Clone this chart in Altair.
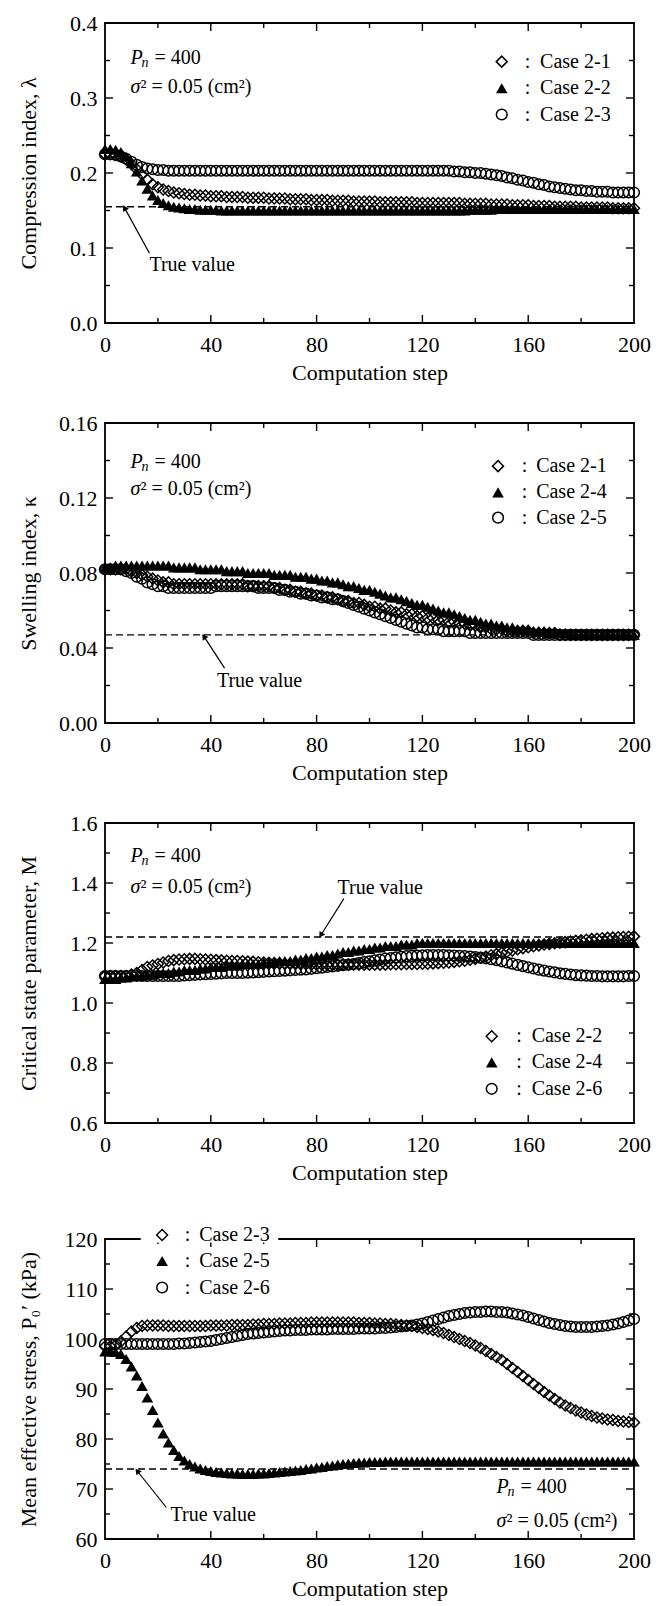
import math
import altair as alt
import pandas as pd

# ---------------- data ----------------
STEPS = list(range(0, 201, 2))

# Panel 1 : compression index
LAMBDA_21 = [0.225,0.225,0.224,0.222,0.218,0.212,0.205,0.198,0.191,0.185,
             0.181,0.178,0.176,0.174,0.173,0.172,0.171,0.171,0.170,0.170,
             0.169,0.169,0.169,0.168,0.168,0.168,0.168,0.167,0.167,0.167,
             0.167,0.166,0.166,0.166,0.166,0.165,0.165,0.165,0.165,0.164,
             0.164,0.164,0.164,0.163,0.163,0.163,0.163,0.162,0.162,0.162,
             0.162,0.162,0.161,0.161,0.161,0.161,0.161,0.161,0.161,0.160,
             0.160,0.160,0.160,0.160,0.160,0.160,0.160,0.160,0.159,0.159,
             0.159,0.159,0.159,0.158,0.158,0.158,0.158,0.157,0.157,0.157,
             0.157,0.156,0.156,0.156,0.156,0.155,0.155,0.155,0.155,0.155,
             0.154,0.154,0.154,0.154,0.154,0.154,0.153,0.153,0.153,0.153,
             0.153]
LAMBDA_22 = [0.232,0.232,0.231,0.228,0.222,0.213,0.202,0.190,0.179,0.170,
             0.164,0.160,0.157,0.155,0.154,0.153,0.152,0.152,0.151,0.151,
             0.151,0.151,0.150,0.150,0.150,0.150,0.150,0.150,0.150,0.150,
             0.150,0.150,0.150,0.150,0.150,0.150,0.150,0.150,0.150,0.150,
             0.150,0.150,0.150,0.150,0.150,0.150,0.150,0.150,0.150,0.150,
             0.150,0.150,0.150,0.150,0.150,0.150,0.150,0.150,0.150,0.150,
             0.150,0.150,0.150,0.150,0.150,0.150,0.150,0.150,0.150,0.151,
             0.151,0.151,0.151,0.151,0.152,0.152,0.152,0.152,0.152,0.152,
             0.152,0.152,0.152,0.152,0.152,0.152,0.152,0.152,0.152,0.152,
             0.152,0.152,0.152,0.152,0.152,0.152,0.152,0.152,0.152,0.152,
             0.152]
LAMBDA_23 = [0.225,0.225,0.224,0.222,0.219,0.215,0.211,0.208,0.206,0.205,
             0.204,0.204,0.203,0.203,0.203,0.203,0.203,0.203,0.203,0.203,
             0.203,0.203,0.203,0.203,0.203,0.203,0.203,0.203,0.203,0.203,
             0.203,0.203,0.203,0.203,0.203,0.203,0.203,0.203,0.203,0.203,
             0.203,0.203,0.203,0.203,0.203,0.203,0.203,0.203,0.203,0.203,
             0.203,0.203,0.203,0.203,0.203,0.203,0.203,0.203,0.203,0.203,
             0.203,0.203,0.203,0.203,0.203,0.203,0.202,0.202,0.201,0.201,
             0.200,0.200,0.199,0.198,0.197,0.196,0.194,0.193,0.191,0.190,
             0.188,0.187,0.185,0.184,0.182,0.181,0.180,0.179,0.178,0.177,
             0.177,0.176,0.176,0.175,0.175,0.175,0.174,0.174,0.174,0.174,
             0.174]

# Panel 2 : swelling index
KAPPA_21 = [0.082,0.082,0.082,0.082,0.082,0.081,0.080,0.079,0.078,0.077,
            0.076,0.075,0.075,0.074,0.074,0.074,0.074,0.074,0.074,0.074,
            0.074,0.074,0.074,0.074,0.074,0.074,0.074,0.073,0.073,0.073,
            0.073,0.073,0.072,0.072,0.071,0.071,0.070,0.070,0.069,0.069,
            0.068,0.068,0.067,0.067,0.066,0.065,0.065,0.064,0.064,0.063,
            0.062,0.062,0.061,0.061,0.060,0.059,0.059,0.058,0.058,0.057,
            0.057,0.056,0.056,0.055,0.055,0.054,0.054,0.053,0.053,0.052,
            0.052,0.051,0.051,0.050,0.050,0.050,0.049,0.049,0.049,0.049,
            0.049,0.048,0.048,0.048,0.048,0.048,0.047,0.047,0.047,0.047,
            0.047,0.047,0.047,0.047,0.047,0.047,0.047,0.047,0.047,0.047,
            0.047]
KAPPA_24 = [0.083,0.083,0.084,0.084,0.084,0.084,0.084,0.084,0.084,0.084,
            0.084,0.084,0.084,0.083,0.083,0.083,0.083,0.083,0.082,0.082,
            0.082,0.082,0.082,0.081,0.081,0.081,0.081,0.080,0.080,0.080,
            0.080,0.080,0.079,0.079,0.079,0.079,0.078,0.078,0.078,0.077,
            0.077,0.076,0.076,0.075,0.075,0.074,0.073,0.073,0.072,0.071,
            0.071,0.070,0.069,0.068,0.067,0.067,0.066,0.065,0.064,0.063,
            0.063,0.062,0.061,0.060,0.059,0.059,0.058,0.057,0.056,0.055,
            0.055,0.054,0.053,0.053,0.052,0.052,0.051,0.051,0.050,0.050,
            0.050,0.049,0.049,0.049,0.048,0.048,0.048,0.048,0.047,0.047,
            0.047,0.047,0.047,0.047,0.047,0.047,0.047,0.047,0.047,0.047,
            0.047]
KAPPA_25 = [0.082,0.082,0.082,0.082,0.081,0.080,0.078,0.077,0.075,0.074,
            0.073,0.073,0.072,0.072,0.072,0.072,0.072,0.072,0.072,0.072,
            0.072,0.073,0.073,0.073,0.073,0.073,0.073,0.073,0.073,0.072,
            0.072,0.072,0.072,0.071,0.071,0.070,0.070,0.069,0.069,0.068,
            0.068,0.067,0.067,0.066,0.066,0.065,0.064,0.063,0.062,0.061,
            0.060,0.059,0.058,0.057,0.056,0.055,0.054,0.053,0.052,0.051,
            0.051,0.050,0.050,0.050,0.049,0.049,0.049,0.049,0.049,0.048,
            0.048,0.048,0.048,0.048,0.048,0.048,0.048,0.048,0.048,0.048,
            0.048,0.047,0.047,0.047,0.047,0.047,0.047,0.047,0.047,0.047,
            0.047,0.047,0.047,0.047,0.047,0.047,0.047,0.047,0.047,0.047,
            0.047]

# Panel 3 : critical state parameter
M_22 = [1.090,1.090,1.090,1.090,1.090,1.095,1.100,1.110,1.120,1.125,
        1.130,1.135,1.140,1.143,1.145,1.146,1.147,1.147,1.146,1.145,
        1.144,1.143,1.142,1.141,1.140,1.140,1.139,1.138,1.137,1.136,
        1.135,1.134,1.133,1.132,1.131,1.130,1.130,1.129,1.129,1.128,
        1.128,1.128,1.128,1.128,1.128,1.128,1.128,1.128,1.128,1.128,
        1.128,1.128,1.128,1.128,1.129,1.129,1.129,1.130,1.130,1.130,
        1.131,1.131,1.132,1.133,1.134,1.135,1.137,1.139,1.141,1.144,
        1.147,1.151,1.155,1.159,1.163,1.167,1.171,1.175,1.179,1.183,
        1.186,1.189,1.192,1.195,1.197,1.199,1.201,1.203,1.205,1.207,
        1.209,1.211,1.213,1.214,1.216,1.217,1.218,1.219,1.220,1.221,
        1.222]
M_24 = [1.080,1.080,1.080,1.085,1.085,1.090,1.090,1.090,1.095,1.095,
        1.100,1.100,1.100,1.105,1.105,1.110,1.110,1.110,1.115,1.115,
        1.120,1.120,1.120,1.125,1.125,1.125,1.130,1.130,1.130,1.130,
        1.135,1.135,1.135,1.140,1.140,1.140,1.145,1.145,1.150,1.150,
        1.155,1.155,1.160,1.160,1.165,1.170,1.170,1.175,1.175,1.180,
        1.180,1.185,1.185,1.190,1.190,1.190,1.195,1.195,1.195,1.200,
        1.200,1.200,1.200,1.200,1.200,1.200,1.200,1.200,1.200,1.200,
        1.200,1.200,1.200,1.200,1.200,1.200,1.200,1.200,1.200,1.200,
        1.200,1.200,1.200,1.200,1.200,1.200,1.200,1.200,1.200,1.200,
        1.200,1.200,1.200,1.200,1.200,1.200,1.200,1.200,1.200,1.200,
        1.200]
M_26 = [1.090,1.090,1.090,1.090,1.090,1.090,1.090,1.090,1.090,1.090,
        1.090,1.090,1.090,1.090,1.090,1.092,1.093,1.094,1.095,1.096,
        1.097,1.098,1.099,1.100,1.100,1.100,1.100,1.101,1.102,1.103,
        1.104,1.105,1.106,1.107,1.108,1.109,1.110,1.111,1.112,1.114,
        1.116,1.118,1.120,1.122,1.124,1.126,1.128,1.130,1.133,1.136,
        1.139,1.142,1.145,1.148,1.150,1.152,1.154,1.156,1.157,1.158,
        1.159,1.160,1.160,1.160,1.160,1.159,1.158,1.157,1.156,1.155,
        1.153,1.151,1.149,1.146,1.143,1.139,1.135,1.131,1.127,1.123,
        1.119,1.115,1.111,1.108,1.105,1.102,1.099,1.097,1.095,1.093,
        1.092,1.091,1.090,1.090,1.089,1.089,1.089,1.089,1.089,1.090,
        1.090]

# Panel 4 : mean effective stress
P0_23 = [98.5,98.5,98.8,99.5,100.5,101.5,102.2,102.6,102.7,102.7,
         102.7,102.7,102.6,102.6,102.6,102.6,102.6,102.6,102.6,102.6,
         102.7,102.7,102.7,102.7,102.8,102.8,102.8,102.8,102.9,102.9,
         103.0,103.0,103.0,103.1,103.1,103.1,103.2,103.2,103.2,103.3,
         103.3,103.3,103.3,103.3,103.3,103.3,103.3,103.3,103.2,103.2,
         103.2,103.1,103.1,103.0,103.0,102.9,102.8,102.7,102.6,102.4,
         102.2,102.0,101.8,101.5,101.2,100.8,100.4,100.0,99.6,99.2,
         98.7,98.2,97.6,97.0,96.4,95.8,95.0,94.2,93.4,92.6,
         91.8,91.0,90.2,89.4,88.7,88.0,87.3,86.7,86.2,85.7,
         85.3,84.9,84.6,84.3,84.1,83.9,83.8,83.6,83.5,83.4,
         83.3]
P0_25 = [97.5,97.5,97.4,97.0,96.0,94.5,92.7,90.6,88.3,85.8,
         83.3,81.1,79.3,77.8,76.6,75.7,75.0,74.5,74.1,73.8,
         73.6,73.4,73.3,73.2,73.1,73.1,73.0,73.0,73.0,73.1,
         73.1,73.2,73.3,73.4,73.5,73.6,73.7,73.8,74.0,74.1,
         74.3,74.4,74.6,74.7,74.9,75.0,75.1,75.2,75.3,75.3,
         75.4,75.4,75.4,75.5,75.5,75.5,75.5,75.5,75.5,75.5,
         75.5,75.5,75.5,75.5,75.5,75.5,75.5,75.5,75.5,75.5,
         75.5,75.5,75.5,75.5,75.5,75.5,75.5,75.5,75.5,75.5,
         75.5,75.5,75.5,75.5,75.5,75.5,75.5,75.5,75.5,75.5,
         75.5,75.5,75.5,75.5,75.5,75.5,75.5,75.5,75.5,75.5,
         75.5]
P0_26 = [99.0,99.0,99.0,99.0,99.0,99.0,99.0,99.0,99.0,99.0,
         99.0,99.0,99.0,99.0,99.1,99.1,99.2,99.3,99.4,99.5,
         99.6,99.8,100.0,100.2,100.4,100.6,100.8,101.0,101.1,101.2,
         101.3,101.4,101.5,101.6,101.7,101.7,101.8,101.8,101.8,101.9,
         101.9,101.9,101.9,102.0,102.0,102.0,102.0,102.0,102.1,102.1,
         102.1,102.1,102.2,102.2,102.3,102.4,102.5,102.6,102.7,102.9,
         103.1,103.4,103.7,104.0,104.3,104.6,104.8,105.0,105.2,105.3,
         105.4,105.4,105.5,105.5,105.4,105.4,105.3,105.1,104.9,104.7,
         104.4,104.1,103.8,103.5,103.2,103.0,102.8,102.6,102.5,102.4,
         102.4,102.4,102.4,102.5,102.6,102.7,102.9,103.1,103.4,103.7,
         104.0]

TRUE_VALUES = [0.155, 0.047, 1.22, 74.0]
X_LABELS = [0, 40, 80, 120, 160, 200]
X_MINOR = [20, 60, 100, 140, 180]

# ---------------- layout / style constants ----------------
W, H = 529, 300
FONT = "Liberation Serif"
FS_LAB = 22
FS_TITLE = 22
FS_TXT = 20
MAJ_LEN, MIN_LEN = 8, 5
SIZE = {"diamond": 120, "triangle-up": 135, "circle": 115}

XS = alt.Scale(domain=[0, 200], nice=False, zero=False)
XAXIS = alt.Axis(title="Computation step", values=X_LABELS, ticks=False, domain=False,
                 grid=False, labelFont=FONT, labelFontSize=FS_LAB, labelPadding=11,
                 labelColor="black", titleColor="black", labelOverlap=False,
                 labelFlush=False,
                 titleFont=FONT, titleFontSize=FS_TITLE, titleFontWeight="normal",
                 titlePadding=7)


def point_layer(xs, ys, shape, X, Y):
    df = pd.DataFrame({"x": xs, "y": ys})
    kw = dict(shape=shape, size=SIZE[shape], color="black", opacity=1)
    if shape == "triangle-up":
        m = alt.Chart(df).mark_point(filled=True, **kw)
    else:
        m = alt.Chart(df).mark_point(filled=False, strokeWidth=1.5, **kw)
    return m.encode(x=X(), y=Y())


def text_layer(x, y, text, X, Y, **kw):
    df = pd.DataFrame({"x": [x], "y": [y]})
    base = dict(font=FONT, fontSize=FS_TXT, align="left", baseline="middle", color="black")
    base.update(kw)
    return alt.Chart(df).mark_text(text=text, **base).encode(x=X(), y=Y())


def panel(spec):
    ymin, ymax = spec["ydom"]
    ys = alt.Scale(domain=[ymin, ymax], nice=False, zero=False)
    yaxis = alt.Axis(title=spec["ytitle"], values=spec["ymajor"], format=spec["fmt"],
                     ticks=False, domain=False, grid=False, labelFont=FONT,
                     labelFontSize=FS_LAB, labelPadding=8, labelColor="black",
                     titleColor="black", labelOverlap=False, labelFlush=False,
                     titleFont=FONT, titleFontSize=FS_TITLE, titleFontWeight="normal",
                     titleX=-77, titleBaseline="middle")

    def X(f="x"):
        return alt.X(f + ":Q", scale=XS, axis=XAXIS)

    def Y(f="y"):
        return alt.Y(f + ":Q", scale=ys, axis=yaxis)

    layers = []
    tv = spec["true"]
    layers.append(alt.Chart(pd.DataFrame({"x": [0], "x2": [200], "y": [tv]}))
                  .mark_rule(color="black", strokeWidth=1.3, strokeDash=[7, 4])
                  .encode(x=X(), x2="x2:Q", y=Y()))
    for vals, shape in spec["series"]:
        layers.append(point_layer(STEPS, vals, shape, X, Y))
    layers.append(alt.Chart(pd.DataFrame({"x": [0], "x2": [200], "y": [ymin], "y2": [ymax]}))
                  .mark_rect(fillOpacity=0, stroke="black", strokeWidth=1.8)
                  .encode(x=X(), x2="x2:Q", y=Y(), y2="y2:Q"))
    xmaj = pd.DataFrame({"x": X_LABELS[1:-1]})
    xmin_ = pd.DataFrame({"x": X_MINOR})
    for df, ln in ((xmaj, MAJ_LEN), (xmin_, MIN_LEN)):
        layers.append(alt.Chart(df).mark_rule(color="black", strokeWidth=1.4)
                      .encode(x=X(), y=alt.value(H), y2=alt.value(H - ln)))
        layers.append(alt.Chart(df).mark_rule(color="black", strokeWidth=1.4)
                      .encode(x=X(), y=alt.value(0), y2=alt.value(ln)))
    ymaj = pd.DataFrame({"y": spec["ymajor"][1:-1]})
    ymin_df = pd.DataFrame({"y": spec["yminor"]})
    for df, ln in ((ymaj, MAJ_LEN), (ymin_df, MIN_LEN)):
        layers.append(alt.Chart(df).mark_rule(color="black", strokeWidth=1.4)
                      .encode(y=Y(), x=alt.value(0), x2=alt.value(ln)))
        layers.append(alt.Chart(df).mark_rule(color="black", strokeWidth=1.4)
                      .encode(y=Y(), x=alt.value(W - ln), x2=alt.value(W)))
    if spec.get("gap"):
        g0, g1, gy0, gy1 = spec["gap"]
        layers.append(alt.Chart(pd.DataFrame({"x": [g0], "x2": [g1], "y": [gy0], "y2": [gy1]}))
                      .mark_rect(color="white")
                      .encode(x=X(), x2="x2:Q", y=Y(), y2="y2:Q"))
    lg = spec["legend"]
    for (name, shape), ry in zip(spec["names"], lg["rows"]):
        layers.append(point_layer([lg["sx"]], [ry], shape, X, Y))
        layers.append(text_layer(lg["cx"], ry, ":", X, Y, align="center"))
        layers.append(text_layer(lg["tx"], ry, name, X, Y))
    px, pyp, pys = spec["params"]
    layers.append(text_layer(px, pyp, "P", X, Y, fontStyle="italic"))
    layers.append(text_layer(px, pyp, "n", X, Y, fontStyle="italic", fontSize=14, dx=11, dy=5))
    layers.append(text_layer(px, pyp, "= 400", X, Y, dx=24))
    layers.append(text_layer(px, pys, "σ", X, Y, fontStyle="italic"))
    layers.append(text_layer(px, pys, "² = 0.05 (cm²)", X, Y, dx=10))
    tx, ty = spec["ttext"]
    layers.append(text_layer(tx, ty, "True value", X, Y))
    (ax1, ay1), (ax2, ay2) = spec["arrow"]
    layers.append(alt.Chart(pd.DataFrame({"x": [ax1, ax2], "y": [ay1, ay2]}))
                  .mark_line(color="black", strokeWidth=1.2)
                  .encode(x=X(), y=Y()))
    dxp = (ax2 - ax1) * W / 200.0
    dyp = -(ay2 - ay1) * H / (ymax - ymin)
    ang = math.degrees(math.atan2(dxp, -dyp)) % 360
    layers.append(alt.Chart(pd.DataFrame({"x": [ax2], "y": [ay2]}))
                  .mark_point(shape="triangle-up", filled=True, size=45, color="black",
                              opacity=1, angle=ang)
                  .encode(x=X(), y=Y()))
    return alt.layer(*layers).properties(width=W, height=H)


p1 = panel(dict(ydom=(0.0, 0.4), ymajor=[0.0, 0.1, 0.2, 0.3, 0.4], yminor=[0.05, 0.15, 0.25, 0.35],
                fmt=".1f", ytitle="Compression index, λ", true=TRUE_VALUES[0],
                series=[(LAMBDA_21, "diamond"), (LAMBDA_22, "triangle-up"), (LAMBDA_23, "circle")],
                names=[("Case 2-1", "diamond"), ("Case 2-2", "triangle-up"), ("Case 2-3", "circle")],
                legend=dict(sx=150, cx=159.7, tx=164.5, rows=[0.3485, 0.313, 0.278]),
                params=(9.6, 0.353, 0.315), ttext=(16.8, 0.0775),
                arrow=((16.8, 0.093), (7.4, 0.1535))))

p2 = panel(dict(ydom=(0.0, 0.16), ymajor=[0.0, 0.04, 0.08, 0.12, 0.16], yminor=[0.02, 0.06, 0.10, 0.14],
                fmt=".2f", ytitle="Swelling index, κ", true=TRUE_VALUES[1],
                series=[(KAPPA_21, "diamond"), (KAPPA_24, "triangle-up"), (KAPPA_25, "circle")],
                names=[("Case 2-1", "diamond"), ("Case 2-4", "triangle-up"), ("Case 2-5", "circle")],
                legend=dict(sx=148.6, cx=158.6, tx=163, rows=[0.137, 0.123, 0.1095]),
                params=(9.6, 0.139, 0.125), ttext=(42.3, 0.0223),
                arrow=((45.2, 0.0293), (37.4, 0.0462))))

p3 = panel(dict(ydom=(0.6, 1.6), ymajor=[0.6, 0.8, 1.0, 1.2, 1.4, 1.6], yminor=[0.7, 0.9, 1.1, 1.3, 1.5],
                fmt=".1f", ytitle="Critical state parameter, M", true=TRUE_VALUES[2],
                series=[(M_22, "diamond"), (M_24, "triangle-up"), (M_26, "circle")],
                names=[("Case 2-2", "diamond"), ("Case 2-4", "triangle-up"), ("Case 2-6", "circle")],
                legend=dict(sx=146.2, cx=156.5, tx=161.3, rows=[0.889, 0.802, 0.714]),
                params=(9.6, 1.49, 1.386), ttext=(87.9, 1.384),
                arrow=((90.3, 1.348), (81.6, 1.226))))

p4 = panel(dict(ydom=(60, 120), ymajor=[60, 70, 80, 90, 100, 110, 120],
                yminor=[65, 75, 85, 95, 105, 115],
                fmt="d", ytitle="Mean effective stress, P₀′ (kPa)", true=TRUE_VALUES[3],
                series=[(P0_23, "diamond"), (P0_25, "triangle-up"), (P0_26, "circle")],
                names=[("Case 2-3", "diamond"), ("Case 2-5", "triangle-up"), ("Case 2-6", "circle")],
                legend=dict(sx=21.6, cx=31.2, tx=35.6, rows=[120.8, 115.6, 110.3]),
                params=(148, 70.4, 63.6), ttext=(24.8, 64.9),
                arrow=((23.2, 66.3), (12.2, 73.6)),
                gap=(13.5, 65.5, 119.3, 121.6)))

top3 = alt.vconcat(p1, p2, p3, spacing=100, bounds="flush")
chart = (alt.vconcat(top3, p4, spacing=42)
         .properties(padding={"left": 17, "top": 12, "right": 5, "bottom": 5})
         .configure_view(strokeWidth=0))

chart.save("out.html", embed_options={"renderer": "svg", "actions": False})
